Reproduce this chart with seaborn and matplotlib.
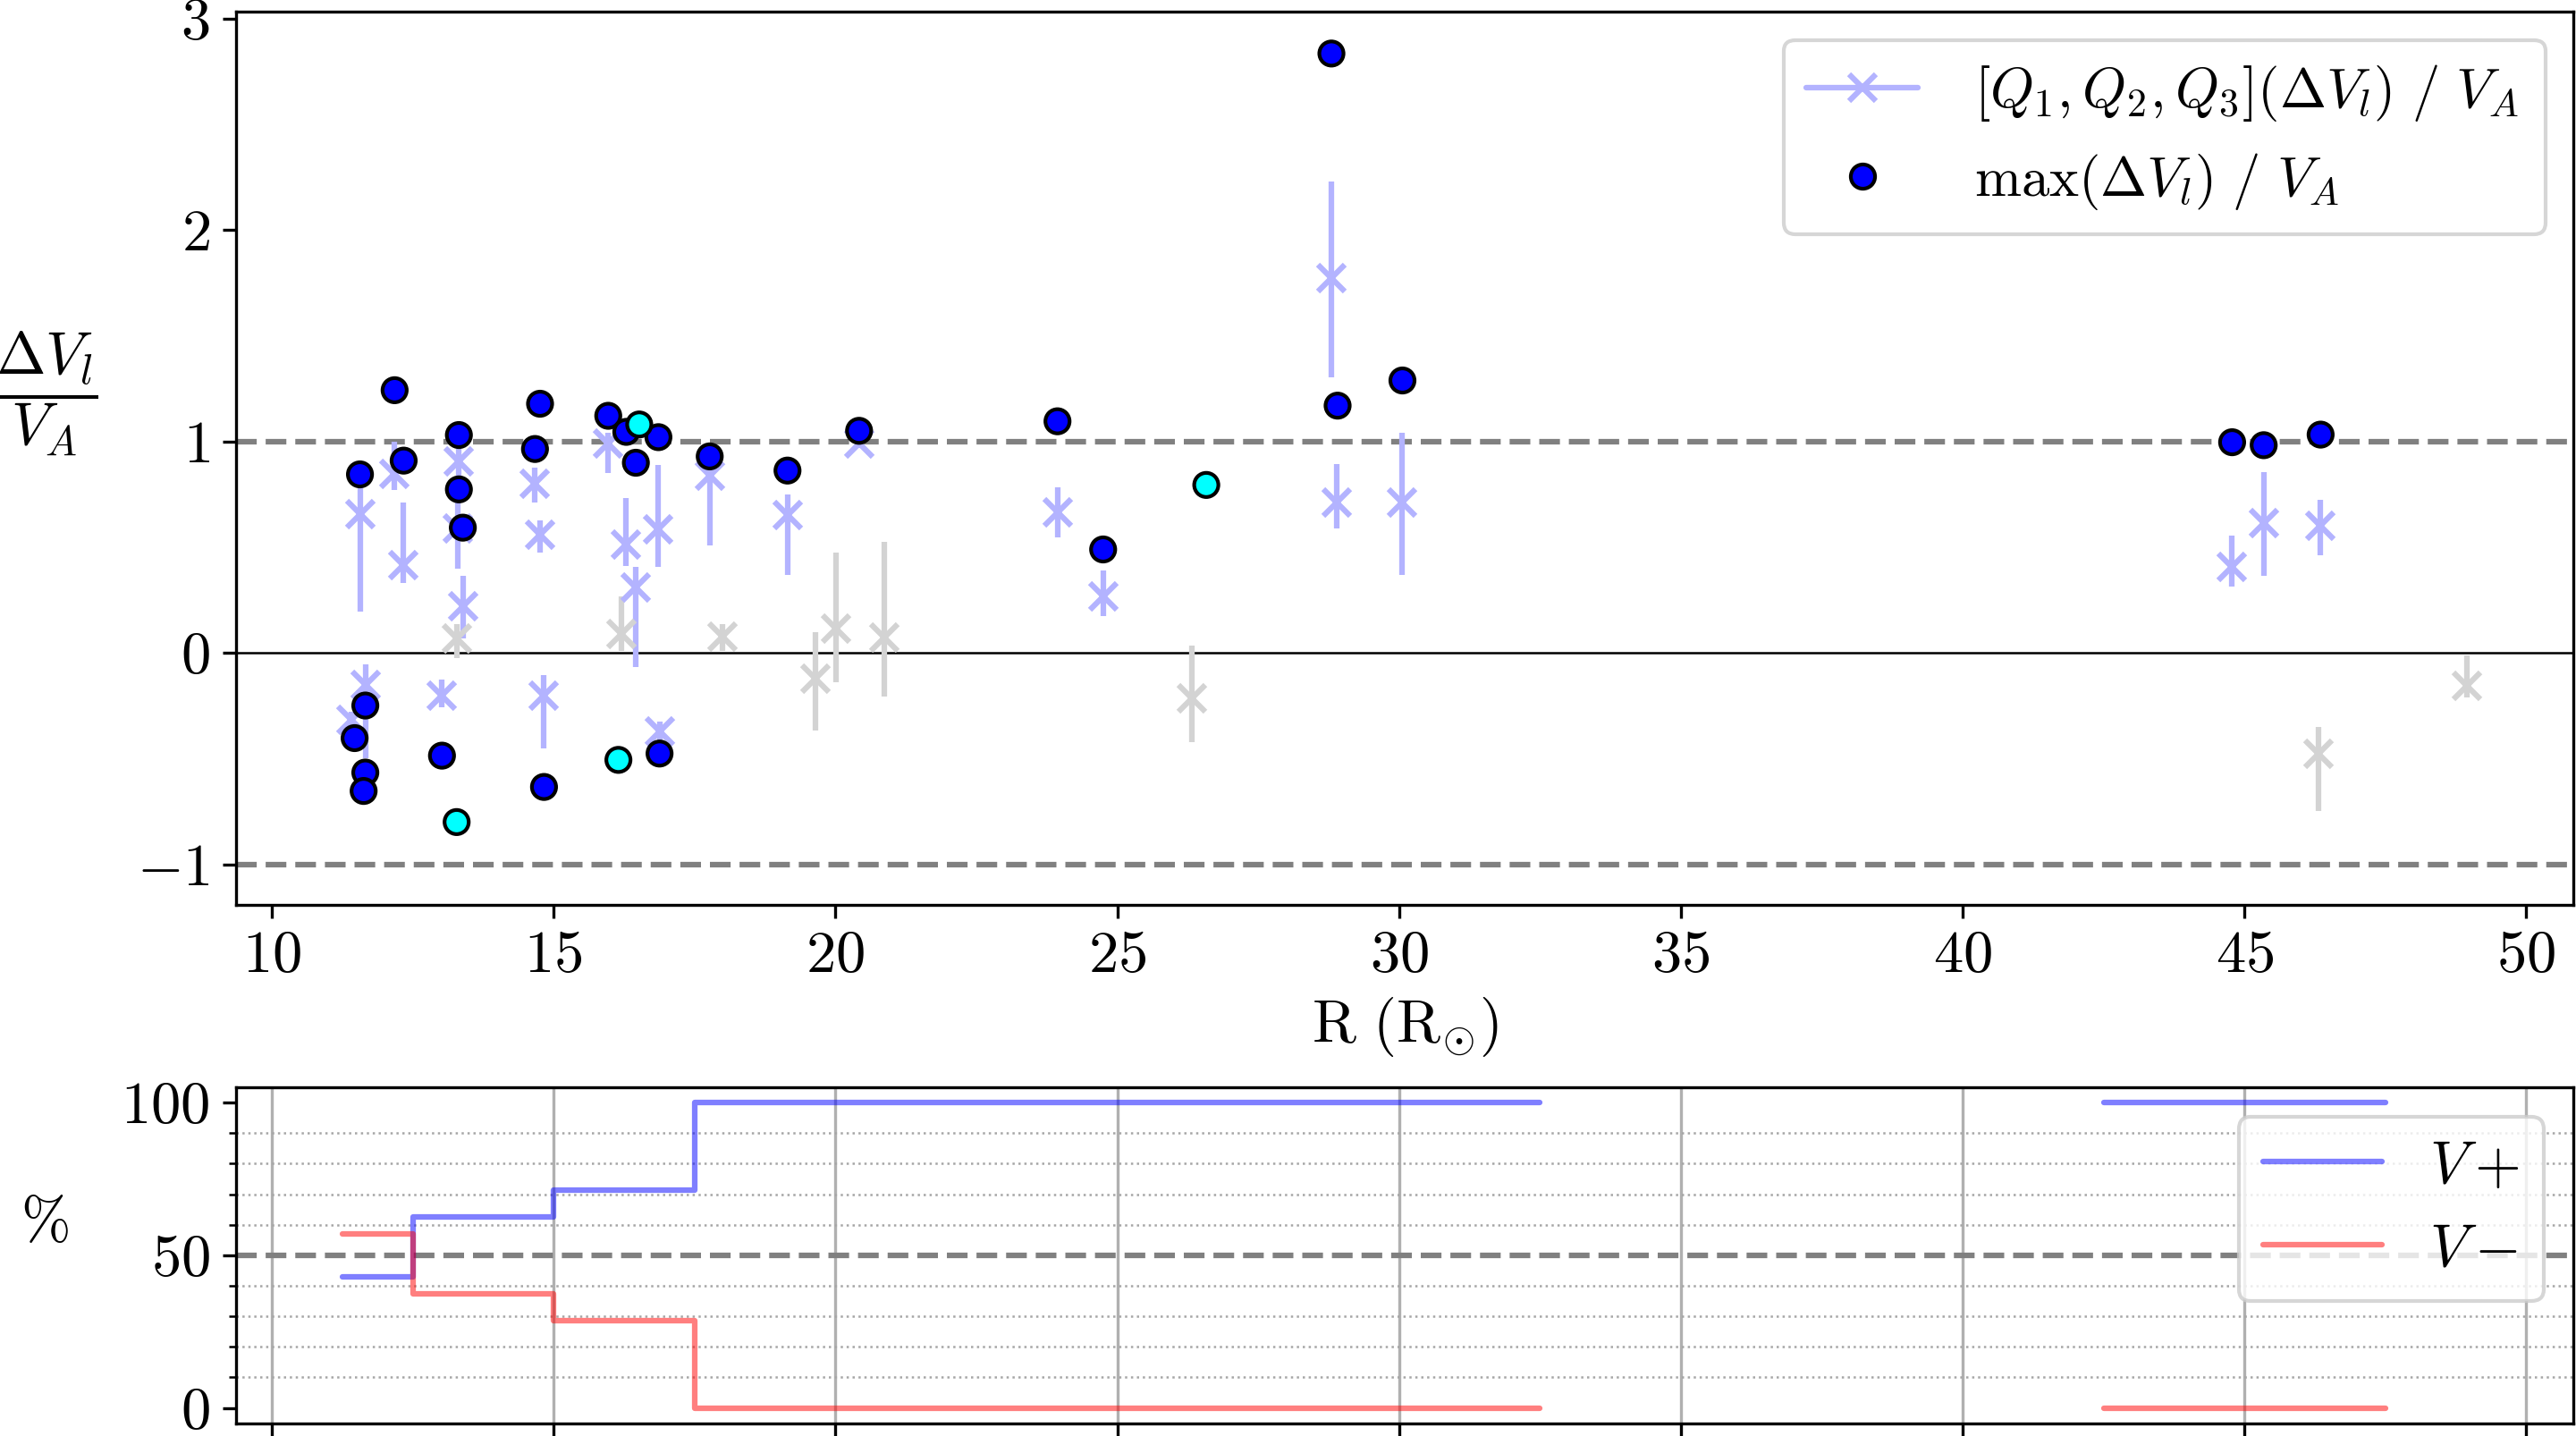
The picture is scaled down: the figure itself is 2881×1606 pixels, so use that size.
import numpy as np
import pandas as pd
import matplotlib
matplotlib.use('Agg')
import matplotlib.pyplot as plt
import seaborn as sns
from matplotlib.lines import Line2D
from matplotlib.ticker import MultipleLocator

# quartiles of dV_l / V_A per event (blue = kept, gray = rejected)
blue_r = [11.565, 12.18, 12.34, 13.32, 13.30, 13.39, 14.67, 14.76, 11.66, 11.42,
          13.02, 14.83, 15.97, 16.29, 16.86, 16.46, 17.77, 16.88, 19.15, 20.42,
          23.94, 24.75, 28.80, 28.90, 30.06, 44.78, 45.34, 46.35]
blue_q1 = [0.196, 0.77, 0.332, 0.75, 0.40, 0.068, 0.71, 0.476, -0.50, -0.36,
           -0.257, -0.453, 0.849, 0.411, 0.408, -0.068, 0.51, -0.426, 0.37, 0.97,
           0.544, 0.175, 1.303, 0.587, 0.37, 0.313, 0.366, 0.461]
blue_q2 = [0.657, 0.846, 0.415, 0.906, 0.589, 0.219, 0.80, 0.559, -0.151, -0.317,
           -0.204, -0.204, 0.989, 0.514, 0.582, 0.31, 0.838, -0.37, 0.653, 0.99,
           0.665, 0.266, 1.773, 0.713, 0.713, 0.408, 0.613, 0.599]
blue_q3 = [0.79, 0.997, 0.71, 0.97, 0.72, 0.363, 0.876, 0.627, -0.053, -0.28,
           -0.128, -0.103, 1.04, 0.733, 0.888, 0.405, 0.89, -0.325, 0.751, 1.01,
           0.782, 0.389, 2.227, 0.894, 1.04, 0.556, 0.856, 0.723]

gray_r = [13.29, 16.20, 17.99, 19.64, 20.01, 20.86, 26.32, 46.32, 48.95]
gray_q1 = [-0.023, 0.008, 0.01, -0.366, -0.14, -0.205, -0.423, -0.749, -0.211]
gray_q2 = [0.068, 0.091, 0.076, -0.12, 0.114, 0.074, -0.215, -0.479, -0.155]
gray_q3 = [0.136, 0.267, 0.136, 0.10, 0.475, 0.525, 0.034, -0.349, -0.014]

# max(dV_l) / V_A
max_r = [11.565, 12.18, 12.34, 13.32, 13.32, 13.39, 14.67, 14.76, 11.66, 11.47,
         11.66, 11.63, 13.02, 14.83, 15.97, 16.29, 16.86, 16.46, 17.77, 16.88,
         19.15, 20.42, 23.94, 24.75, 28.80, 28.91, 30.06, 44.78, 45.34, 46.35,
         13.28, 16.52, 16.15, 26.58]
max_v = [0.844, 1.242, 0.909, 1.03, 0.773, 0.592, 0.964, 1.178, -0.249, -0.403,
         -0.566, -0.653, -0.486, -0.634, 1.121, 1.045, 1.02, 0.899, 0.929, -0.476,
         0.862, 1.05, 1.095, 0.489, 2.834, 1.169, 1.288, 0.996, 0.982, 1.032,
         -0.80, 1.080, -0.506, 0.794]
max_kind = ['a'] * 30 + ['b'] * 4

# fraction of V+ / V- events per 2.5 Rsun bin
bin_r = [11.25, 13.75, 16.25, 18.75, 21.25, 23.75, 26.25, 28.75, 31.25, 33.75,
         36.25, 38.75, 41.25, 43.75, 46.25, 48.75]
v_plus = [42.86, 62.5, 71.43, 100, 100, 100, 100, 100, 100, np.nan,
          np.nan, np.nan, np.nan, 100, 100, np.nan]
v_minus = [57.14, 37.5, 28.57, 0, 0, 0, 0, 0, 0, np.nan,
           np.nan, np.nan, np.nan, 0, 0, np.nan]

sns.set_style('ticks')
plt.rcParams['font.family'] = 'serif'
plt.rcParams['font.serif'] = ['cmr10']
plt.rcParams['mathtext.fontset'] = 'cm'
plt.rcParams['axes.formatter.use_mathtext'] = True
plt.rcParams['font.size'] = 16
plt.rcParams['axes.edgecolor'] = 'black'
plt.rcParams['xtick.color'] = 'black'
plt.rcParams['ytick.color'] = 'black'
plt.rcParams['text.color'] = 'black'
plt.rcParams['axes.labelcolor'] = 'black'

fig = plt.figure(figsize=(2881 / 300, 1606 / 300), dpi=300)
ax1 = fig.add_axes([0.0916, 0.3701, 0.9074, 0.6215])
ax2 = fig.add_axes([0.0916, 0.0089, 0.9074, 0.2339], sharex=ax1)

# top panel
ax1.axhline(1, ls='--', color='gray', lw=1.5, zorder=1)
ax1.axhline(-1, ls='--', color='gray', lw=1.5, zorder=1)
ax1.axhline(0, color='black', lw=0.6, zorder=1)

g2 = np.array(gray_q2)
ax1.errorbar(gray_r, g2, yerr=[g2 - np.array(gray_q1), np.array(gray_q3) - g2],
             fmt='x', color='#d3d3d3', ms=7, mew=1.5, elinewidth=1.5, capsize=0, zorder=2)
b2 = np.array(blue_q2)
ax1.errorbar(blue_r, b2, yerr=[b2 - np.array(blue_q1), np.array(blue_q3) - b2],
             fmt='x', color='#b3b3ff', ms=7, mew=1.5, elinewidth=1.5, capsize=0, zorder=2)

df_max = pd.DataFrame({'r': max_r, 'v': max_v, 'kind': max_kind})
sns.scatterplot(data=df_max, x='r', y='v', hue='kind', palette={'a': 'blue', 'b': 'cyan'},
                s=42, edgecolor='black', linewidth=1, zorder=3, legend=False, ax=ax1)

ax1.set_xlim(9.365, 50.835)
ax1.set_ylim(-1.19, 3.03)
ax1.set_xticks(np.arange(10, 51, 5))
ax1.set_yticks([-1, 0, 1, 2, 3])
ax1.set_xlabel(r'$\mathrm{R\ (R_{\odot})}$', va='center')
ax1.xaxis.set_label_coords(0.5, -0.137)
ax1.set_ylabel(r'$\dfrac{\Delta V_l}{V_A}$', rotation=0, ha='center', va='center')
ax1.yaxis.set_label_coords(-0.081, 0.572)

h1 = Line2D([], [], color='#b3b3ff', marker='x', ms=7, mew=1.5, lw=1.5)
h2 = Line2D([], [], color='blue', marker='o', mec='black', mew=1, ms=6.5, ls='none')
ax1.legend([h1, h2], [r'$[Q_1, Q_2, Q_3](\Delta V_l)\ /\ V_A$ ', r'$\max(\Delta V_l)\ /\ V_A$'],
           loc='upper right', fontsize=15, handletextpad=1.0)

# bottom panel
ax2.axhline(50, ls='--', color='gray', lw=1.5, zorder=1)
ax2.step(bin_r, v_plus, where='mid', color='blue', alpha=0.5, lw=1.5, label=r'$V+$')
ax2.step(bin_r, v_minus, where='mid', color='red', alpha=0.5, lw=1.5, label=r'$V-$')
ax2.set_ylim(-5, 105)
ax2.set_yticks([0, 50, 100])
ax2.yaxis.set_minor_locator(MultipleLocator(10))
ax2.grid(axis='x', which='major', color='#b0b0b0', lw=0.8)
ax2.grid(axis='y', which='minor', ls=':', color='0.65', lw=0.6)
ax2.tick_params(labelbottom=False)
ax2.set_ylabel('%', rotation=0, ha='center', va='center')
ax2.yaxis.set_label_coords(-0.0815, 0.593)
ax2.legend(loc='upper right')

fig.savefig('out.png', dpi=300)
